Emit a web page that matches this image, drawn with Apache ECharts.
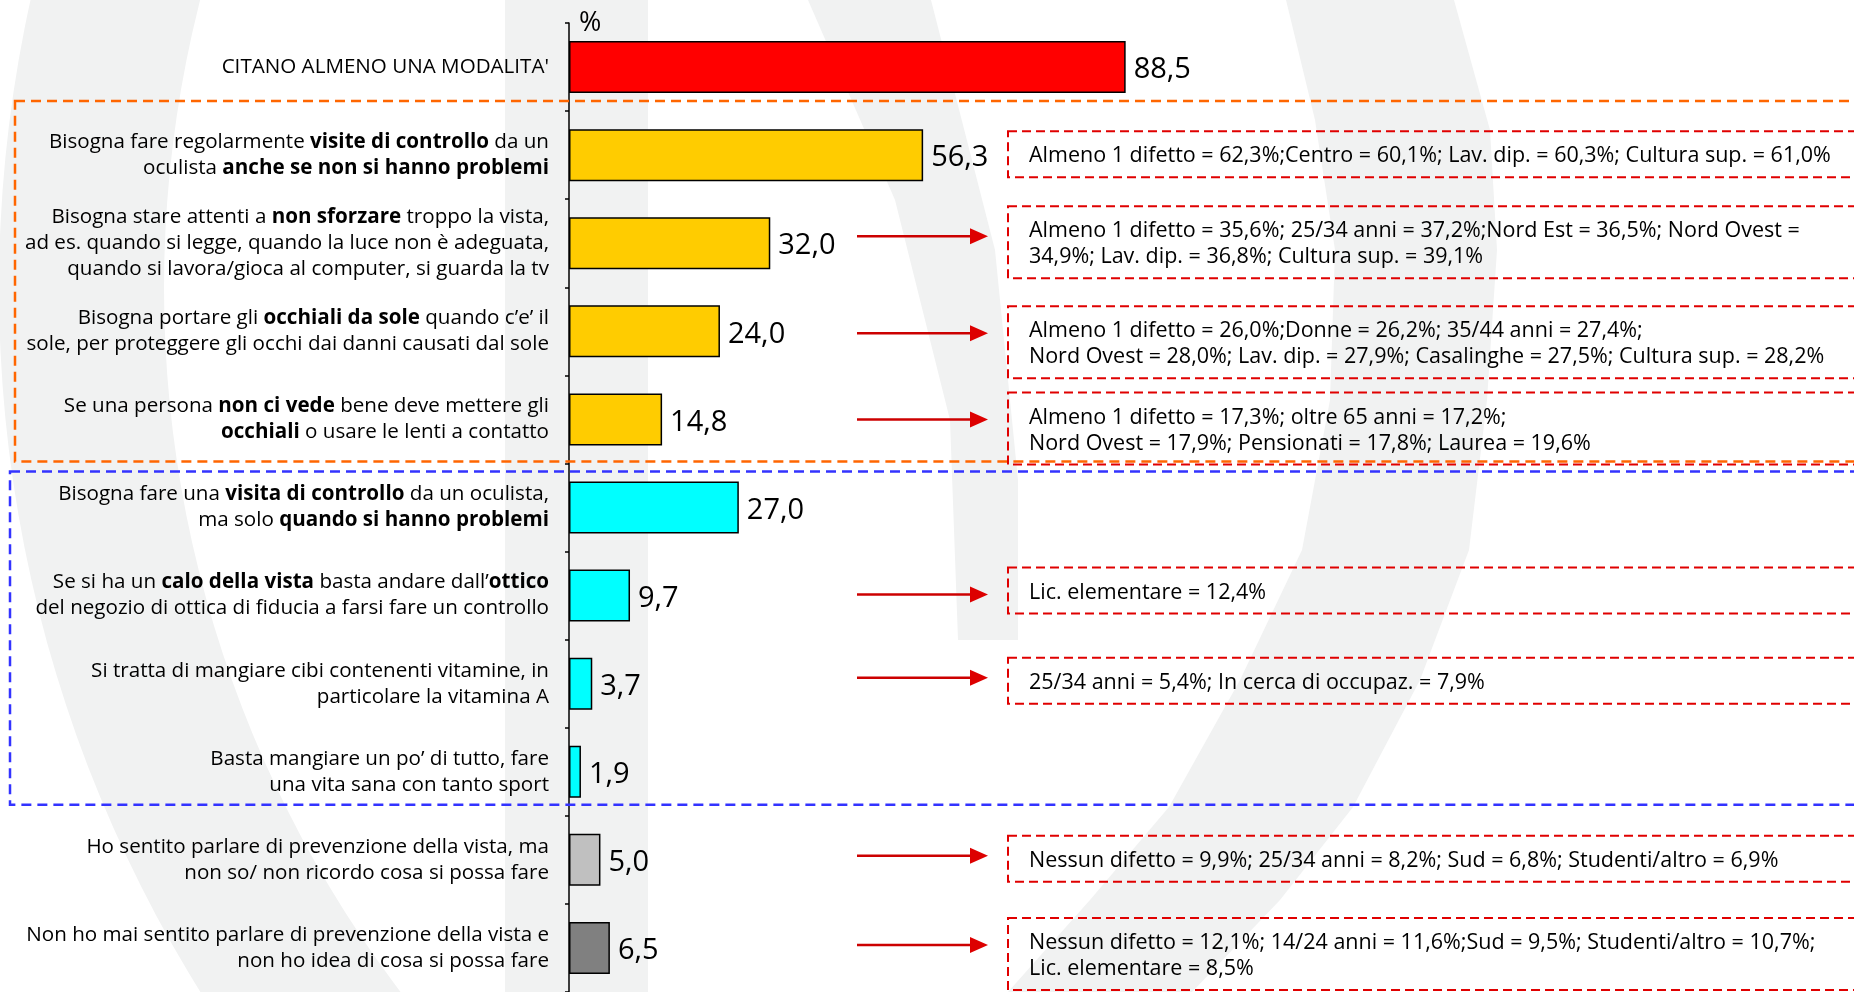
<!DOCTYPE html>
<html>
<head>
<meta charset="utf-8">
<script src="https://cdn.jsdelivr.net/npm/echarts@6/dist/echarts.min.js"></script>
<style>
  html, body { margin: 0; padding: 0; background: #fff; }
  #main { width: 1854px; height: 992px; }
</style>
</head>
<body>
<div id="main"></div>
<script>
// categories (rich text: {b|...} = bold)
var categories = [
  "CITANO ALMENO UNA MODALITA'",
  "Bisogna fare regolarmente {b|visite di controllo} da un\noculista {b|anche se non si hanno problemi}",
  "Bisogna stare attenti a {b|non sforzare} troppo la vista,\nad es. quando si legge, quando la luce non è adeguata,\nquando si lavora/gioca al computer, si guarda la tv",
  "Bisogna portare gli {b|occhiali da sole} quando c’e’ il\nsole, per proteggere gli occhi dai danni causati dal sole",
  "Se una persona {b|non ci vede} bene deve mettere gli\n{b|occhiali} o usare le lenti a contatto",
  "Bisogna fare una {b|visita di controllo} da un oculista,\nma solo {b|quando si hanno problemi}",
  "Se si ha un {b|calo della vista} basta andare dall’{b|ottico}\ndel negozio di ottica di fiducia a farsi fare un controllo",
  "Si tratta di mangiare cibi contenenti vitamine, in\nparticolare la vitamina A",
  "Basta mangiare un po’ di tutto, fare\nuna vita sana con tanto sport",
  "Ho sentito parlare di prevenzione della vista, ma\nnon so/ non ricordo cosa si possa fare",
  "Non ho mai sentito parlare di prevenzione della vista e\nnon ho idea di cosa si possa fare"
];
var values = [88.5, 56.3, 32.0, 24.0, 14.8, 27.0, 9.7, 3.7, 1.9, 5.0, 6.5];
var barColors = ['#FF0000', '#FFCC00', '#FFCC00', '#FFCC00', '#FFCC00',
  '#00FFFF', '#00FFFF', '#00FFFF', '#00FFFF', '#C0C0C0', '#808080'];

// side notes: which category, text, arrow or not
var noteCats = [1, 2, 3, 4, 6, 7, 9, 10];
var noteTexts = [
  "Almeno 1 difetto = 62,3%;Centro = 60,1%; Lav. dip. = 60,3%; Cultura sup. = 61,0%",
  "Almeno 1 difetto = 35,6%; 25/34 anni = 37,2%;Nord Est = 36,5%; Nord Ovest =\n34,9%; Lav. dip. = 36,8%; Cultura sup. = 39,1%",
  "Almeno 1 difetto = 26,0%;Donne = 26,2%; 35/44 anni = 27,4%;\nNord Ovest = 28,0%; Lav. dip. = 27,9%; Casalinghe = 27,5%; Cultura sup. = 28,2%",
  "Almeno 1 difetto = 17,3%; oltre 65 anni = 17,2%;\nNord Ovest = 17,9%; Pensionati = 17,8%; Laurea = 19,6%",
  "Lic. elementare = 12,4%",
  "25/34 anni = 5,4%; In cerca di occupaz. = 7,9%",
  "Nessun difetto = 9,9%; 25/34 anni = 8,2%; Sud = 6,8%; Studenti/altro = 6,9%",
  "Nessun difetto = 12,1%; 14/24 anni = 11,6%;Sud = 9,5%; Studenti/altro = 10,7%;\nLic. elementare = 8,5%"
];
var noteArrows = [false, true, true, true, true, true, true, true];

// small vertical nudges (px) of notes and arrows against the bar centre
var noteOffsets = [1, -12, 0, -2, -3, -1, 1, -5];
var arrowOffsets = [0, -7, 2, 0, -1, -6, -4, -3];

var FONT = '"Open Sans", "Liberation Sans", Arial, sans-serif';
var chart = echarts.init(document.getElementById('main'));

var option = {
  animation: false,
  backgroundColor: '#fff',
  textStyle: { fontFamily: FONT },
  grid: { left: 569, top: 23, width: 629, height: 973.5 },
  xAxis: { type: 'value', min: 0, max: 100, show: false },
  yAxis: {
    type: 'category',
    inverse: true,
    data: categories,
    name: '%',
    nameLocation: 'start',
    nameGap: 0,
    nameTextStyle: { fontSize: 27, color: '#000', align: 'left', verticalAlign: 'middle', padding: [0, 0, 0, 10] },
    axisLine: { lineStyle: { color: '#000', width: 1.5 } },
    axisTick: { show: true, interval: 0, length: 4, lineStyle: { color: '#000', width: 1.5 } },
    axisLabel: {
      interval: 0,
      margin: 20,
      fontSize: 20.6,
      lineHeight: 26,
      color: '#000',
      align: 'right',
      rich: { b: { fontWeight: 'bold', fontSize: 20.6, lineHeight: 26, color: '#000' } }
    },
    splitLine: { show: false }
  },
  series: [{
    type: 'bar',
    barWidth: 52,
    data: values.map(function (v, i) {
      return { value: v, itemStyle: { color: barColors[i] } };
    }),
    itemStyle: { borderColor: '#000', borderWidth: 1.5 },
    label: {
      show: true,
      position: 'right',
      distance: 8,
      offset: [0, 3],
      fontSize: 29,
      color: '#000',
      formatter: function (p) { return p.value.toFixed(1).replace('.', ','); }
    }
  }]
};
chart.setOption(option);

// decorations placed from the category axis
function yAt(i) { return chart.convertToPixel({ yAxisIndex: 0 }, i); }
function edge(i) { return (yAt(i) + yAt(i + 1)) / 2; }

var WM = '#F1F2F2';
var gfx = [
  // faint watermark logo
  { type: 'ring', silent: true, z: -20, shape: { cx: 1330, cy: 288, r: 1331, r0: 1166 }, style: { fill: WM } },
  { type: 'rect', silent: true, z: -20, shape: { x: 505, y: 0, width: 143, height: 992 }, style: { fill: WM } },
  { type: 'polygon', silent: true, z: -20, smooth: 0.3,
    shape: { points: [[808, 0], [931, 0], [995, 250], [1018, 480], [1018, 640], [958, 640], [950, 420], [895, 200]] },
    style: { fill: WM } },
  { type: 'polygon', silent: true, z: -20,
    shape: { points: [[1286, 0], [1454, 0], [1490, 130], [1497, 250], [1487, 400], [1469, 550], [1420, 680], [1353, 807], [1280, 900], [1192, 992],
      [1008, 992], [1090, 900], [1169, 807], [1240, 680], [1302, 550], [1330, 400], [1335, 250], [1315, 120]] },
    style: { fill: WM } },
  // group frames
  { type: 'rect', z: 10, silent: true,
    shape: { x: 15, y: edge(0) - 10, width: 1900, height: edge(4) - 2 - (edge(0) - 10) },
    style: { fill: 'none', stroke: '#FF6600', lineWidth: 2.5, lineDash: [10, 6] } },
  { type: 'rect', z: 10, silent: true,
    shape: { x: 10, y: edge(4) + 8, width: 1900, height: edge(8) - 11 - (edge(4) + 8) },
    style: { fill: 'none', stroke: '#3333FF', lineWidth: 2.5, lineDash: [10, 6] } }
];

noteCats.forEach(function (c, k) {
  var line1 = yAt(c) + noteOffsets[k];
  var n = noteTexts[k].split('\n').length;
  var top = line1 - 25;
  var bottom = line1 + 26 * (n - 1) + 21;
  gfx.push({ type: 'rect', z: 10, silent: true,
    shape: { x: 1008, y: top, width: 1000, height: bottom - top },
    style: { fill: 'none', stroke: '#E00000', lineWidth: 2, lineDash: [9, 5] } });
  gfx.push({ type: 'text', z: 10, silent: true, x: 1029, y: line1 - 13,
    style: { text: noteTexts[k], font: '21.5px ' + FONT, fill: '#000', lineHeight: 26, verticalAlign: 'top', align: 'left' } });
  if (noteArrows[k]) {
    var ay = yAt(c) + arrowOffsets[k];
    gfx.push({ type: 'line', z: 10, silent: true,
      shape: { x1: 857, y1: ay, x2: 974, y2: ay }, style: { stroke: '#CC0000', lineWidth: 2.5 } });
    gfx.push({ type: 'polygon', z: 10, silent: true,
      shape: { points: [[970, ay - 8], [988, ay], [970, ay + 8]] }, style: { fill: '#DD0000' } });
  }
});

chart.setOption({ graphic: gfx });
</script>
</body>
</html>
